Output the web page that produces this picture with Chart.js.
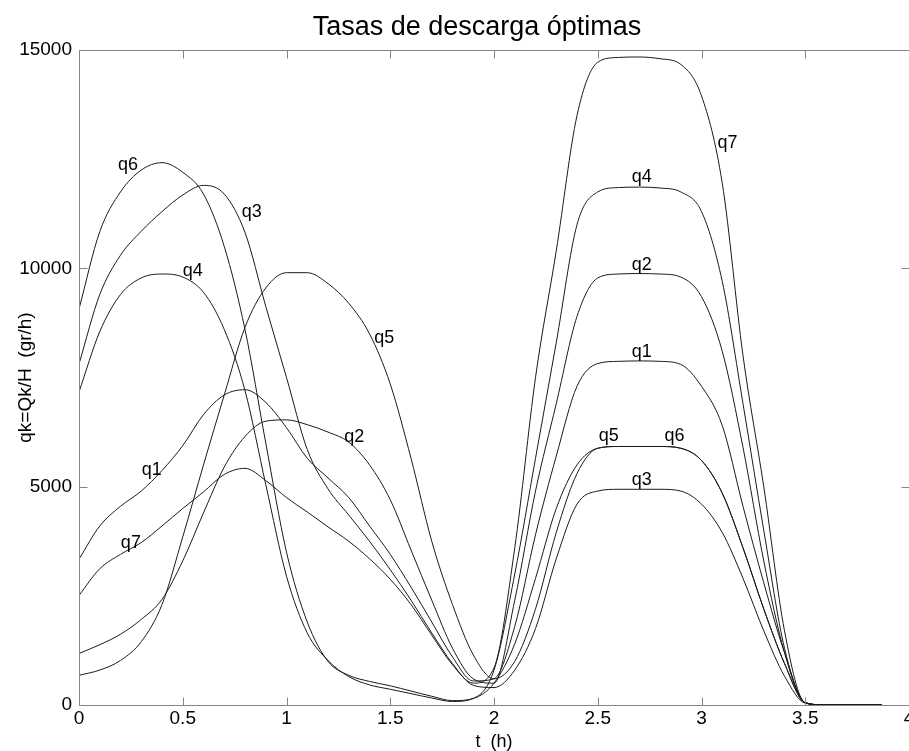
<!DOCTYPE html>
<html>
<head>
<meta charset="utf-8">
<title>Tasas de descarga óptimas</title>
<script src="https://cdn.jsdelivr.net/npm/chart.js@4.4.1/dist/chart.umd.min.js"></script>
<style>
    body { margin: 0; background: #fff; }
    canvas { display: block; }
</style>
</head>
<body>
<canvas id="myChart" width="909" height="751"></canvas>
<script>
// tiempo en horas
const tiempo = [0, 0.1, 0.2, 0.3, 0.4, 0.5, 0.6, 0.7, 0.8, 0.9, 1.0, 1.1, 1.2, 1.3, 1.4, 1.5, 1.6, 1.7, 1.8, 1.9,
    2.0, 2.1, 2.2, 2.3, 2.4, 2.5, 2.6, 2.7, 2.8, 2.9, 3.0, 3.1, 3.2, 3.3, 3.4, 3.5, 3.6, 3.7, 3.8, 3.87]

// tasas de descarga (gr/h)
const q1 = [3340, 4100, 4550, 4900, 5370, 5940, 6650, 7100, 7220, 6930, 6350, 5650, 5200, 4750, 4100, 3450, 2700, 1900, 1100, 550,
    600, 1800, 3900, 5700, 7300, 7820, 7870, 7880, 7870, 7800, 7300, 6400, 4550, 2800, 1200, 50, 0, 0, 0, 0]
const q2 = [1180, 1380, 1620, 1960, 2420, 3300, 4400, 5450, 6150, 6500, 6530, 6420, 6250, 6020, 5500, 4700, 3550, 2400, 1300, 600,
    500, 2400, 4900, 6900, 8900, 9780, 9870, 9880, 9870, 9800, 9350, 8100, 5900, 3300, 1200, 50, 0, 0, 0, 0]
const q3 = [7810, 9400, 10300, 10850, 11300, 11680, 11900, 11700, 10820, 9130, 7500, 5850, 4950, 4350, 3750, 3100, 2400, 1650, 950, 450,
    400, 800, 1750, 3350, 4600, 4900, 4940, 4940, 4940, 4900, 4600, 3950, 2900, 1700, 660, 40, 0, 0, 0, 0]
const q4 = [7170, 8550, 9400, 9780, 9870, 9800, 9450, 8600, 7200, 5050, 2950, 1650, 1020, 650, 460, 360, 260, 160, 80, 150,
    800, 3000, 5650, 8300, 11000, 11750, 11850, 11860, 11840, 11750, 11300, 9700, 6900, 4000, 1300, 50, 0, 0, 0, 0]
const q5 = [680, 800, 1020, 1450, 2300, 3850, 5500, 7100, 8650, 9550, 9900, 9900, 9650, 9200, 8500, 7350, 5650, 3750, 2300, 1150,
    600, 1000, 2200, 3950, 5300, 5880, 5920, 5920, 5920, 5880, 5600, 4850, 3600, 2200, 950, 50, 0, 0, 0, 0]
const q6 = [9070, 10840, 11750, 12250, 12420, 12200, 11700, 10500, 8600, 6000, 3500, 1900, 1000, 680, 540, 440, 320, 200, 100, 150,
    500, 1400, 2900, 4500, 5500, 5880, 5920, 5920, 5920, 5880, 5600, 4850, 3600, 2200, 950, 50, 0, 0, 0, 0]
const q7 = [2510, 3120, 3450, 3720, 4100, 4500, 4880, 5280, 5420, 5140, 4750, 4420, 4080, 3750, 3350, 2880, 2300, 1600, 920, 500,
    850, 3600, 7500, 10400, 13500, 14720, 14830, 14840, 14800, 14670, 13950, 11950, 8000, 5000, 1700, 50, 0, 0, 0, 0]

const xTicks = [0, 0.5, 1, 1.5, 2, 2.5, 3, 3.5, 4]
const yTicks = [0, 5000, 10000, 15000]

// nombre, t, q
const etiquetas = [
    ["q6", 0.236, 12370], ["q3", 0.832, 11290], ["q4", 0.548, 9940], ["q5", 1.471, 8400],
    ["q2", 1.327, 6140], ["q1", 0.351, 5380], ["q7", 0.25, 3710],
    ["q7", 3.125, 12870], ["q4", 2.712, 12090], ["q2", 2.712, 10080], ["q1", 2.712, 8080],
    ["q5", 2.553, 6160], ["q6", 2.87, 6160], ["q3", 2.712, 5150],
]

const titulo = "Tasas de descarga óptimas"
const fuente = '"Liberation Sans", Arial, sans-serif'
const series = { q1, q2, q3, q4, q5, q6, q7 }

// marco y marcas hacia adentro, estilo matlab
const marco = {
    id: "marco",
    afterDatasetsDraw(chart) {
        const { ctx, chartArea: a, scales } = chart
        const l = Math.round(a.left) + 0.5
        const r = Math.round(a.right) + 0.5
        const t = Math.round(a.top) + 0.5
        const b = Math.round(a.bottom) + 0.5
        ctx.save()
        ctx.strokeStyle = "#858585"
        ctx.lineWidth = 1
        ctx.beginPath()
        ctx.rect(l, t, r - l, b - t)
        scales.x.ticks.forEach((tk) => {
            const px = Math.round(scales.x.getPixelForValue(tk.value)) + 0.5
            ctx.moveTo(px, b)
            ctx.lineTo(px, b - 8)
            ctx.moveTo(px, t)
            ctx.lineTo(px, t + 8)
        })
        scales.y.ticks.forEach((tk) => {
            const py = Math.round(scales.y.getPixelForValue(tk.value)) + 0.5
            ctx.moveTo(l, py)
            ctx.lineTo(l + 8, py)
            ctx.moveTo(r, py)
            ctx.lineTo(r - 8, py)
        })
        ctx.stroke()

        ctx.fillStyle = "#000"
        ctx.textAlign = "center"
        ctx.font = "27px " + fuente
        ctx.textBaseline = "alphabetic"
        ctx.fillText(titulo, 477, 35)

        ctx.font = "18px " + fuente
        ctx.textBaseline = "middle"
        etiquetas.forEach(([txt, tt, q]) => {
            ctx.fillText(txt, scales.x.getPixelForValue(tt), scales.y.getPixelForValue(q))
        })
        ctx.restore()
    },
}

const canvasChart = document.getElementById("myChart").getContext("2d")

new Chart(canvasChart, {
    type: "line",
    data: {
        datasets: Object.entries(series).map(([nombre, valores]) => ({
            label: nombre,
            data: valores.map((v, i) => ({ x: tiempo[i], y: v })),
            borderColor: "#1a1a1a",
            borderWidth: 1,
            pointRadius: 0,
            fill: false,
            cubicInterpolationMode: "monotone",
        })),
    },
    options: {
        responsive: false,
        animation: false,
        layout: { padding: { left: 0, right: -2, top: 50, bottom: 0 } },
        plugins: {
            legend: { display: false },
            tooltip: { enabled: false },
            title: { display: false },
        },
        scales: {
            x: {
                type: "linear",
                min: 0,
                max: 4,
                afterBuildTicks: (scale) => {
                    scale.ticks = xTicks.map((v) => ({ value: v }))
                },
                afterFit: (scale) => {
                    scale.height = 46
                    scale.paddingLeft = 0
                    scale.paddingRight = 0
                },
                grid: { display: false, drawTicks: false },
                border: { display: false },
                ticks: {
                    color: "#000",
                    padding: 2,
                    maxRotation: 0,
                    autoSkip: false,
                    font: { family: fuente, size: 19 },
                    callback: (v) => String(v),
                },
                title: {
                    display: true,
                    text: "t  (h)",
                    color: "#000",
                    font: { family: fuente, size: 18 },
                    padding: { top: 0, bottom: -2 },
                },
            },
            y: {
                min: 0,
                max: 15000,
                afterBuildTicks: (scale) => {
                    scale.ticks = yTicks.map((v) => ({ value: v }))
                },
                afterFit: (scale) => {
                    scale.width = 79
                },
                grid: { display: false, drawTicks: false },
                border: { display: false },
                ticks: {
                    color: "#000",
                    padding: 7,
                    font: { family: fuente, size: 19 },
                    callback: (v) => String(v),
                },
                title: {
                    display: true,
                    text: "qk=Qk/H  (gr/h)",
                    color: "#000",
                    font: { family: fuente, size: 19 },
                    padding: { top: 14, bottom: 0 },
                },
            },
        },
    },
    plugins: [marco],
})
</script>
</body>
</html>
